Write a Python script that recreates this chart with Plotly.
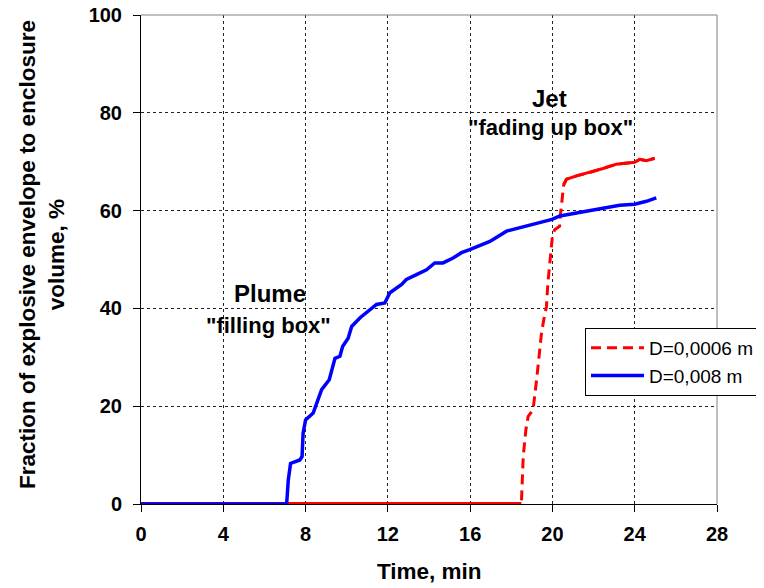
import plotly.graph_objects as go

# Blue: D=0,008 m (plume, "filling box")
blue_t = [0, 7.08, 7.16, 7.27, 7.72, 7.83, 7.88, 8.00, 8.37, 8.78, 9.15, 9.43, 9.67, 9.80,
          10.07, 10.24, 10.65, 11.13, 11.45, 11.85, 12.10, 12.67, 12.90, 13.39, 13.88,
          14.28, 14.68, 15.17, 15.58, 15.98, 16.96, 17.77, 18.74, 19.98, 20.36, 21.34,
          22.30, 23.27, 24.00, 24.57, 25.05]
blue_v = [0, 0, 4.9, 8.3, 9.0, 9.7, 14.5, 17.2, 18.6, 23.4, 25.4, 29.8, 30.2, 32.2,
          33.9, 36.3, 38.1, 39.8, 40.8, 41.1, 43.2, 44.9, 45.9, 46.9, 47.9,
          49.3, 49.3, 50.3, 51.4, 52.0, 53.7, 55.8, 56.9, 58.2, 58.9, 59.6,
          60.4, 61.1, 61.3, 61.9, 62.6]

# Red: D=0,0006 m (jet, "fading up box")
red_t = [0, 18.49, 18.58, 18.71, 18.82, 19.06, 19.23, 19.39, 19.47, 19.58, 19.71, 19.78,
         19.90, 20.00, 20.11, 20.35, 20.39, 20.49, 20.55, 20.68, 21.17, 21.81, 22.46,
         23.11, 24.00, 24.25, 24.57, 24.97]
red_v = [0, 0, 9.7, 15.2, 17.9, 19.3, 25.4, 31.6, 35.0, 37.7, 40.4, 45.2,
         50.0, 54.8, 56.1, 56.8, 59.2, 62.6, 65.3, 66.4, 67.1, 67.8, 68.6,
         69.5, 69.9, 70.5, 70.2, 70.7]

x_ticks = [0, 4, 8, 12, 16, 20, 24, 28]
y_ticks = [0, 20, 40, 60, 80, 100]

FONT = "Liberation Sans, Arial, sans-serif"
RED = "#ff0000"
BLUE = "#0000ff"

fig = go.Figure()

# dashed red (legend entry)
fig.add_trace(go.Scatter(x=red_t, y=red_v, mode="lines", name="D=0,0006 m",
                         line=dict(color=RED, width=3, dash="10px,6px")))
# dense, nearly flat portions appear solid in the original
fig.add_trace(go.Scatter(x=red_t[:2], y=red_v[:2], mode="lines", showlegend=False,
                         line=dict(color=RED, width=4), hoverinfo="skip"))
fig.add_trace(go.Scatter(x=red_t[18:], y=red_v[18:], mode="lines", showlegend=False,
                         line=dict(color=RED, width=3), hoverinfo="skip"))
fig.add_trace(go.Scatter(x=blue_t, y=blue_v, mode="lines", name="D=0,008 m",
                         line=dict(color=BLUE, width=3.5)))

grid = dict(showgrid=True, gridcolor="#222222", gridwidth=1, griddash="3px,3px",
            zeroline=False, showline=True, linecolor="black", linewidth=1,
            ticks="outside", ticklen=7, tickcolor="black", tickwidth=1,
            automargin=False, ticklabeloverflow="allow",
            tickfont=dict(family=FONT, size=20, color="black", weight="bold"))

fig.update_layout(
    width=764, height=588,
    margin=dict(l=133, r=55, t=7, b=92, autoexpand=False),
    paper_bgcolor="white", plot_bgcolor="white",
    font=dict(family=FONT, color="black"),
    xaxis=dict(range=[0, 28], tickvals=x_ticks, ticktext=[str(v) for v in x_ticks],
               ticklabelstandoff=5, **grid),
    yaxis=dict(range=[0, 100], tickvals=y_ticks, ticktext=[str(v) for v in y_ticks],
               ticklabelstandoff=7, **grid),
    legend=dict(x=0.7708, y=0.36, xanchor="left", yanchor="top",
                bgcolor="white", bordercolor="black", borderwidth=1,
                font=dict(family=FONT, size=19, color="black"),
                itemwidth=53, tracegroupgap=0),
    showlegend=True,
)

# gray top/right frame
fig.add_shape(type="line", xref="paper", yref="paper", x0=0, x1=1, y0=1, y1=1,
              line=dict(color="#808080", width=1))
fig.add_shape(type="line", xref="paper", yref="paper", x0=1, x1=1, y0=0, y1=1,
              line=dict(color="#808080", width=1))

title_font = dict(family=FONT, size=22.5, color="black", weight="bold")
fig.add_annotation(xref="paper", yref="paper", x=0.5, y=-0.139, text="Time, min",
                   showarrow=False, font=title_font, xanchor="center", yanchor="middle")
fig.add_annotation(xref="paper", yref="paper", x=-0.173, y=0.51,
                   text="Fraction of explosive envelope to enclosure<br>volume, %",
                   textangle=-90, showarrow=False, font=title_font,
                   xanchor="center", yanchor="middle")

ann_font_big = dict(family=FONT, size=24, color="black", weight="bold")
ann_font = dict(family=FONT, size=22, color="black", weight="bold")
fig.add_annotation(x=19.87, y=83.0, text="Jet", showarrow=False, font=ann_font_big)
fig.add_annotation(x=19.9, y=76.9, text="\"fading up box\"", showarrow=False, font=ann_font)
fig.add_annotation(x=6.27, y=43.1, text="Plume", showarrow=False, font=ann_font_big)
fig.add_annotation(x=6.22, y=36.5, text="\"filling box\"", showarrow=False, font=ann_font)

fig.write_html("out.html")
